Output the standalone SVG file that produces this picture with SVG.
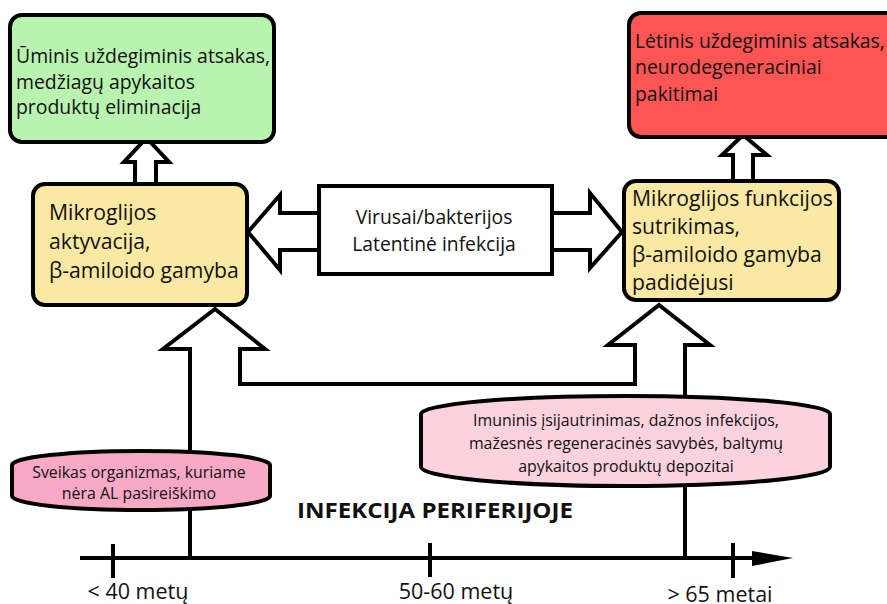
<svg xmlns="http://www.w3.org/2000/svg" width="887" height="604" viewBox="0 0 887 604">
<style>
.box{stroke:#000;stroke-width:4}
.arr{fill:#fff;stroke:#000;stroke-width:4;stroke-linejoin:miter}
.ln{fill:none;stroke:#000;stroke-width:4}
.t{font-family:"Open Sans","Noto Sans",sans-serif;fill:#111}
.b{font-size:19.4px}
.y{font-size:21.2px}
.m{font-size:19.3px}
.s{font-size:15.9px}
.ax{font-size:21.5px}
</style>
<rect width="887" height="604" fill="#fff"/>
<g id="connectors">
<path class="arr" d="M190,557 V349 H163 L215,309 L265,349 H240 V384 H635 V345 H608 L659,305 L710,345 H685 V557"/>
<path class="arr" d="M135,183 V162 H124 L146.5,138 L169,162 H156 V183"/>
<path class="arr" d="M733,179 V155 H722 L743,135 L767,155 H753 V179"/>
<path class="arr" d="M319,213 H280 V195 L248,232 L280,270 V250 H319"/>
<path class="arr" d="M552,213 H590 V193 L622,232 L590,268 V250 H552"/>
</g>
<g id="axis">
<line class="ln" x1="80" y1="558" x2="760" y2="558"/>
<path d="M752,551 L793,558 L752,566 Z" fill="#000"/>
<line class="ln" x1="113" y1="544" x2="113" y2="578"/>
<line class="ln" x1="430" y1="543" x2="430" y2="577"/>
<line class="ln" x1="733" y1="543" x2="733" y2="578"/>
<text class="t ax" x="138" y="599" text-anchor="middle">&lt; 40 metų</text>
<text class="t ax" x="456" y="599" text-anchor="middle">50-60 metų</text>
<text class="t ax" x="720" y="602" text-anchor="middle">&gt; 65 metai</text>
</g>
<g id="title">
<text class="t" x="435" y="518" text-anchor="middle" font-weight="bold" font-size="22px" textLength="276" lengthAdjust="spacingAndGlyphs">INFEKCIJA PERIFERIJOJE</text>
</g>
<g id="acute">
<rect class="box" x="10" y="15" width="264" height="127" rx="12" fill="#b9f3b0"/>
<text class="t b" x="16" y="63">Ūminis uždegiminis atsakas,</text>
<text class="t b" x="16" y="89">medžiagų apykaitos</text>
<text class="t b" x="16" y="114">produktų eliminacija</text>
</g>
<g id="chronic">
<rect class="box" x="629" y="13" width="270" height="124" rx="12" fill="#fd5454"/>
<text class="t b" x="635" y="48">Lėtinis uždegiminis atsakas,</text>
<text class="t b" x="635" y="74">neurodegeneraciniai</text>
<text class="t b" x="635" y="101">pakitimai</text>
</g>
<g id="activation">
<rect class="box" x="33" y="184" width="214" height="121" rx="12" fill="#fbe9a3"/>
<text class="t y" x="49" y="220">Mikroglijos</text>
<text class="t y" x="49" y="249">aktyvacija,</text>
<text class="t y" x="49" y="278">β-amiloido gamyba</text>
</g>
<g id="dysfunction">
<rect class="box" x="624" y="181" width="215" height="119" rx="12" fill="#fbe9a3"/>
<text class="t y" x="632" y="206">Mikroglijos funkcijos</text>
<text class="t y" x="632" y="234">sutrikimas,</text>
<text class="t y" x="632" y="262">β-amiloido gamyba</text>
<text class="t y" x="632" y="290">padidėjusi</text>
</g>
<g id="infection">
<rect class="box" x="319" y="186" width="233" height="88" fill="#fff"/>
<text class="t m" x="434" y="224" text-anchor="middle">Virusai/bakterijos</text>
<text class="t m" x="434" y="251" text-anchor="middle">Latentinė infekcija</text>
</g>
<g id="healthy">
<path class="box" d="M12,465 A129,14 0 0 1 270,465 V496 A129,14 0 0 1 12,496 Z" fill="#f9a9c6"/>
<text class="t s" x="139" y="478" text-anchor="middle">Sveikas organizmas, kuriame</text>
<text class="t s" x="139" y="499" text-anchor="middle">nėra AL pasireiškimo</text>
</g>
<g id="aging">
<path class="box" d="M421,414 A204,18 0 0 1 830,414 V467 A204,19 0 0 1 421,467 Z" fill="#fcd2df"/>
<text class="t s" x="626" y="426" text-anchor="middle">Imuninis įsijautrinimas, dažnos infekcijos,</text>
<text class="t s" x="626" y="449" text-anchor="middle">mažesnės regeneracinės savybės, baltymų</text>
<text class="t s" x="626" y="472" text-anchor="middle">apykaitos produktų depozitai</text>
</g>
</svg>
